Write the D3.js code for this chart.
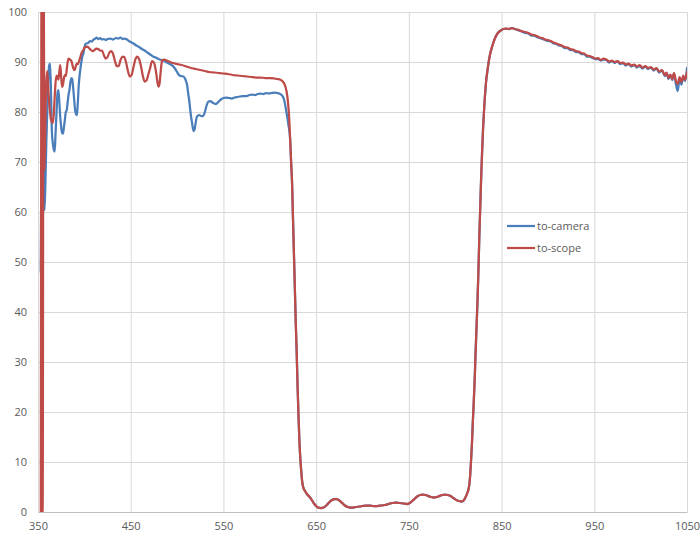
<!DOCTYPE html>
<html>
<head>
<meta charset="utf-8">
<script src="https://cdn.jsdelivr.net/npm/d3@7/dist/d3.min.js"></script>
<style>
  html, body { margin: 0; padding: 0; background: #ffffff; }
  svg { display: block; }
  .tick text { font-family: "Open Sans", "Noto Sans", sans-serif; font-size: 11px; fill: #595959; }
  .legend text { font-family: "Open Sans", "Noto Sans", sans-serif; font-size: 11px; fill: #595959; }
</style>
</head>
<body>
<svg id="chart" width="700" height="540"></svg>
<script>
// Transmission (%) against wavelength (nm) for the two light paths.
const xTicks = [350, 450, 550, 650, 750, 850, 950, 1050];
const yTicks = [0, 10, 20, 30, 40, 50, 60, 70, 80, 90, 100];
const seriesNames = ["to-camera", "to-scope"];

// to-camera, passband below the edge
const cameraHead = [
  [353, 48], [354, 72], [355, 62], [356, 70], [357, 60.4], [358, 66], [359, 74], [360, 80],
  [361, 86], [362, 89.3], [363, 89.7], [364, 84], [365, 76], [366, 73.7], [367, 72.5], [368, 72.1],
  [369, 76], [370, 80], [371, 83.7], [372, 84.4], [373, 82], [374, 79], [375, 77], [376, 75.8],
  [377, 75.7], [378, 77], [379, 78.5], [380, 80], [381, 80.4], [382, 82], [383, 83.5], [384, 84.5],
  [385, 86], [386, 86.8], [387, 86.5], [388, 84.7], [389, 82.5], [390, 80.5], [391, 79.6], [392, 79.4],
  [393, 82], [394, 85.5], [395, 87.5], [396, 89], [397, 90.3], [398, 91.2], [399, 91.7], [400, 92.8],
  [401, 93.5], [402, 93.7], [404, 93.8], [406, 94.2], [408, 94.1], [410, 94.5], [412, 94.7], [413, 94.9],
  [415, 94.6], [417, 94.8], [419, 94.5], [421, 94.6], [423, 94.4], [425, 94.6], [428, 94.7], [431, 94.5],
  [434, 94.8], [437, 94.7], [439, 94.9], [441, 94.6], [443, 94.7], [446, 94.5], [448, 94.2], [450, 94.0],
  [453, 93.7], [456, 93.3], [459, 93.0], [462, 92.6], [465, 92.3], [468, 91.9], [471, 91.5], [474, 91.1],
  [477, 90.9], [480, 90.6], [483, 90.4], [485, 90.3], [488, 90.0], [491, 89.7], [494, 89.4], [496, 89.1],
  [498, 88.6], [500, 88.0], [502, 87.4], [504, 87.2], [507, 87.1], [509, 86.5], [511, 85.2], [512, 83.7],
  [513, 82.5], [514, 80.8], [515, 79.2], [516, 78.0], [517, 76.8], [518, 76.2], [519, 76.6], [520, 77.8],
  [521, 78.8], [522, 79.2], [524, 79.4], [526, 79.2], [528, 79.2], [530, 80.0], [532, 81.4], [534, 82.1],
  [536, 82.2], [538, 81.9], [540, 81.7], [542, 81.6], [544, 81.9], [546, 82.3], [548, 82.6], [550, 82.8],
  [553, 82.9], [556, 82.8], [559, 82.7], [562, 82.9], [565, 83.0], [568, 83.1], [571, 83.2], [575, 83.2],
  [578, 83.4], [581, 83.5], [584, 83.4], [587, 83.6], [590, 83.7], [593, 83.6], [596, 83.8], [599, 83.7],
  [602, 83.8], [605, 83.9], [608, 83.8], [610, 83.7], [612, 83.5], [614, 83.1], [615, 82.7], [616, 82.0],
  [617, 81.0], [618, 79.9], [619, 78.8], [620, 77.6]
];

// to-scope, passband below the edge
const scopeHead = [
  [353, 0], [354, 118], [355, 0], [356, 112], [357, 68.4], [358, 79], [359, 86], [360, 88.2],
  [361, 85], [362, 82], [363, 80], [364, 78.5], [365, 78.0], [366, 77.8], [367, 79.5], [368, 83],
  [369, 86], [370, 87.3], [371, 87.0], [372, 86.5], [373, 88.0], [374, 89.4], [375, 87.0], [376, 85.0],
  [377, 85.5], [378, 86.8], [379, 87.4], [380, 87.2], [381, 88.5], [382, 90.0], [383, 90.7], [384, 90.6],
  [385, 90.4], [386, 90.2], [387, 89.5], [388, 88.8], [389, 88.4], [390, 88.6], [391, 89.3], [392, 89.7],
  [393, 89.6], [394, 90.0], [395, 90.6], [396, 91.2], [397, 91.8], [398, 92.2], [399, 92.4], [400, 92.8],
  [401, 93.0], [403, 93.1], [405, 92.8], [407, 92.4], [409, 92.2], [411, 92.4], [413, 92.7], [415, 92.6],
  [417, 92.3], [419, 92.3], [421, 91.4], [423, 90.7], [425, 91.0], [427, 91.9], [429, 92.2], [431, 91.6],
  [433, 90.2], [435, 89.2], [437, 89.2], [439, 90.4], [441, 91.1], [443, 91.0], [445, 89.9], [447, 88.2],
  [449, 87.1], [451, 87.4], [453, 89.0], [455, 90.5], [457, 91.1], [459, 90.6], [461, 89.2], [463, 87.3],
  [465, 86.1], [467, 86.3], [469, 87.5], [471, 88.8], [473, 90.2], [475, 89.9], [477, 88.4], [479, 85.8],
  [480, 85.1], [481, 85.6], [482, 87.4], [483, 89.3], [484, 90.4], [486, 90.5], [490, 90.2], [495, 89.8],
  [500, 89.6], [505, 89.4], [510, 89.1], [515, 88.8], [520, 88.6], [525, 88.4], [530, 88.2], [535, 88.0],
  [540, 87.9], [545, 87.8], [550, 87.7], [555, 87.6], [560, 87.4], [565, 87.3], [570, 87.2], [575, 87.1],
  [580, 87.0], [585, 86.9], [590, 86.9], [595, 86.8], [600, 86.8], [605, 86.7], [608, 86.6], [611, 86.5],
  [614, 86.1], [616, 85.5], [618, 84.2], [619, 83.0], [620, 81.2], [621, 78.5]
];

// shared blocking band: both paths overlap here
const stopBand = [
  [622, 74.4], [623, 70], [624, 66], [625, 59], [626, 52], [627, 45], [628, 38], [629, 32],
  [630, 25], [631, 19], [632, 14], [633, 10.5], [634, 8], [635, 6], [636, 5], [638, 4.2],
  [640, 3.6], [643, 3.0], [646, 2.2], [648, 1.6], [650, 1.2], [652, 0.9], [655, 0.8], [658, 0.9],
  [661, 1.3], [664, 1.9], [667, 2.4], [670, 2.6], [672, 2.6], [675, 2.3], [678, 1.8], [681, 1.3],
  [684, 1.0], [687, 0.9], [690, 0.9], [693, 1.0], [697, 1.1], [700, 1.2], [704, 1.3], [708, 1.3],
  [712, 1.2], [716, 1.2], [720, 1.3], [724, 1.4], [728, 1.6], [732, 1.8], [736, 1.9], [740, 1.8],
  [744, 1.7], [748, 1.6], [750, 1.7], [753, 2.1], [756, 2.6], [759, 3.1], [762, 3.4], [765, 3.5],
  [768, 3.4], [771, 3.2], [774, 3.0], [777, 2.9], [780, 3.0], [783, 3.2], [786, 3.4], [789, 3.5],
  [792, 3.4], [795, 3.2], [798, 2.8], [801, 2.4], [804, 2.2], [807, 2.1], [809, 2.3], [811, 2.9],
  [813, 3.8], [815, 5.2], [816, 7], [817, 10], [818, 13.5], [819, 18], [820, 22], [821, 26.5],
  [822, 32], [823, 37], [824, 42], [825, 48], [826, 55], [827, 61], [828, 67], [829, 72],
  [830, 76.5], [831, 80], [832, 83], [833, 85.5], [835, 88.6], [837, 91], [840, 93.2], [843, 94.8],
  [846, 95.8], [849, 96.3], [852, 96.6], [855, 96.7], [858, 96.6], [861, 96.8], [864, 96.6]
];

// to-camera, passband above the edge
const cameraTail = [
  [867, 96.4], [870, 96.2], [873, 96.0], [876, 95.8], [879, 95.7], [882, 95.3], [885, 95.3], [888, 95.0],
  [891, 94.8], [894, 94.6], [897, 94.4], [900, 94.2], [903, 94.1], [906, 93.7], [909, 93.6], [912, 93.3],
  [915, 93.2], [918, 92.8], [921, 92.8], [924, 92.4], [927, 92.4], [930, 92.0], [933, 92.0], [936, 91.6],
  [939, 91.6], [942, 91.1], [945, 91.1], [948, 90.8], [951, 90.6], [954, 90.6], [957, 90.3], [960, 90.5],
  [963, 90.4], [966, 89.9], [969, 90.2], [972, 89.8], [975, 90.1], [978, 89.6], [981, 89.8], [984, 89.3],
  [987, 89.6], [990, 89.1], [993, 89.4], [996, 88.9], [999, 89.2], [1002, 88.7], [1005, 89.1], [1008, 88.6],
  [1011, 88.9], [1014, 88.3], [1017, 88.7], [1020, 87.9], [1023, 88.3], [1026, 87.2], [1028, 87.8], [1030, 86.6],
  [1032, 87.4], [1034, 86.4], [1036, 87.7], [1038, 85.6], [1040, 84.2], [1042, 86.6], [1044, 85.5], [1046, 87.0],
  [1048, 86.2], [1050, 88.8]
];

// to-scope, passband above the edge
const scopeTail = [
  [867, 96.5], [870, 96.3], [873, 96.1], [876, 96.0], [879, 95.8], [882, 95.5], [885, 95.4], [888, 95.2],
  [891, 94.9], [894, 94.8], [897, 94.5], [900, 94.4], [903, 94.2], [906, 93.9], [909, 93.7], [912, 93.5],
  [915, 93.3], [918, 93.0], [921, 92.9], [924, 92.6], [927, 92.5], [930, 92.2], [933, 92.1], [936, 91.8],
  [939, 91.7], [942, 91.3], [945, 91.2], [948, 91.0], [951, 90.7], [954, 90.8], [957, 90.4], [960, 90.7],
  [963, 90.5], [966, 90.1], [969, 90.3], [972, 90.0], [975, 90.2], [978, 89.8], [981, 89.9], [984, 89.5],
  [987, 89.7], [990, 89.3], [993, 89.5], [996, 89.1], [999, 89.4], [1002, 88.9], [1005, 89.2], [1008, 88.8],
  [1011, 89.0], [1014, 88.5], [1017, 88.8], [1020, 88.1], [1023, 88.4], [1026, 87.4], [1028, 87.9], [1030, 86.8],
  [1032, 87.5], [1034, 86.6], [1036, 87.8], [1038, 86.2], [1040, 85.6], [1042, 87.0], [1044, 86.0], [1046, 87.3],
  [1048, 86.4], [1050, 88.0]
];

const colors = ["#4a7ebb", "#be4b48"];

const svg = d3.select("#chart");
const margin = { left: 38, right: 13, top: 12, bottom: 28 };
const W = 700, H = 540;

const x = d3.scaleLinear().domain([350, 1050]).range([margin.left, W - margin.right]);
const y = d3.scaleLinear().domain([0, 100]).range([H - margin.bottom, margin.top]);

// gridlines
svg.append("g")
  .attr("transform", `translate(0,${y(0)})`)
  .call(d3.axisBottom(x).tickValues(xTicks).tickSize(-(y(0) - y(100))).tickFormat(""))
  .call(g => g.select(".domain").remove())
  .call(g => g.selectAll("line").attr("stroke", "#d9d9d9").attr("stroke-width", 1));

svg.append("g")
  .attr("transform", `translate(${x(350)},0)`)
  .call(d3.axisLeft(y).tickValues(yTicks).tickSize(-(x(1050) - x(350))).tickFormat(""))
  .call(g => g.select(".domain").remove())
  .call(g => g.selectAll("line").attr("stroke", "#d9d9d9").attr("stroke-width", 1));

// axes labels
svg.append("g")
  .attr("transform", `translate(0,${y(0)})`)
  .call(d3.axisBottom(x).tickValues(xTicks).tickSize(0).tickPadding(10).tickFormat(d3.format("d")))
  .call(g => g.select(".domain").attr("stroke", "#bfbfbf"));

svg.append("g")
  .attr("transform", `translate(${x(350)},0)`)
  .call(d3.axisLeft(y).tickValues(yTicks).tickSize(0).tickPadding(11).tickFormat(d3.format("d")))
  .call(g => g.select(".domain").remove());

// clip lines to the plot area
svg.append("clipPath").attr("id", "plot")
  .append("rect")
  .attr("x", x(350)).attr("y", y(100))
  .attr("width", x(1050) - x(350)).attr("height", y(0) - y(100));

const line = d3.line()
  .x(d => x(d[0]))
  .y(d => y(d[1]))
  .curve(d3.curveMonotoneX);

const series = [
  cameraHead.concat(stopBand, cameraTail),
  scopeHead.concat(stopBand, scopeTail)
];

svg.append("g").attr("clip-path", "url(#plot)")
  .selectAll("path")
  .data(series)
  .join("path")
  .attr("d", line)
  .attr("fill", "none")
  .attr("stroke", (d, i) => colors[i])
  .attr("stroke-width", 2.25)
  .attr("stroke-linejoin", "round")
  .attr("stroke-linecap", "round");

// legend
const legend = svg.append("g").attr("class", "legend");
seriesNames.forEach((name, i) => {
  const ly = 226 + i * 22;
  legend.append("line")
    .attr("x1", 507).attr("x2", 535)
    .attr("y1", ly).attr("y2", ly)
    .attr("stroke", colors[i]).attr("stroke-width", 2.25);
  legend.append("text")
    .attr("x", 537).attr("y", ly)
    .attr("dy", "0.35em")
    .text(name);
});
</script>
</body>
</html>
